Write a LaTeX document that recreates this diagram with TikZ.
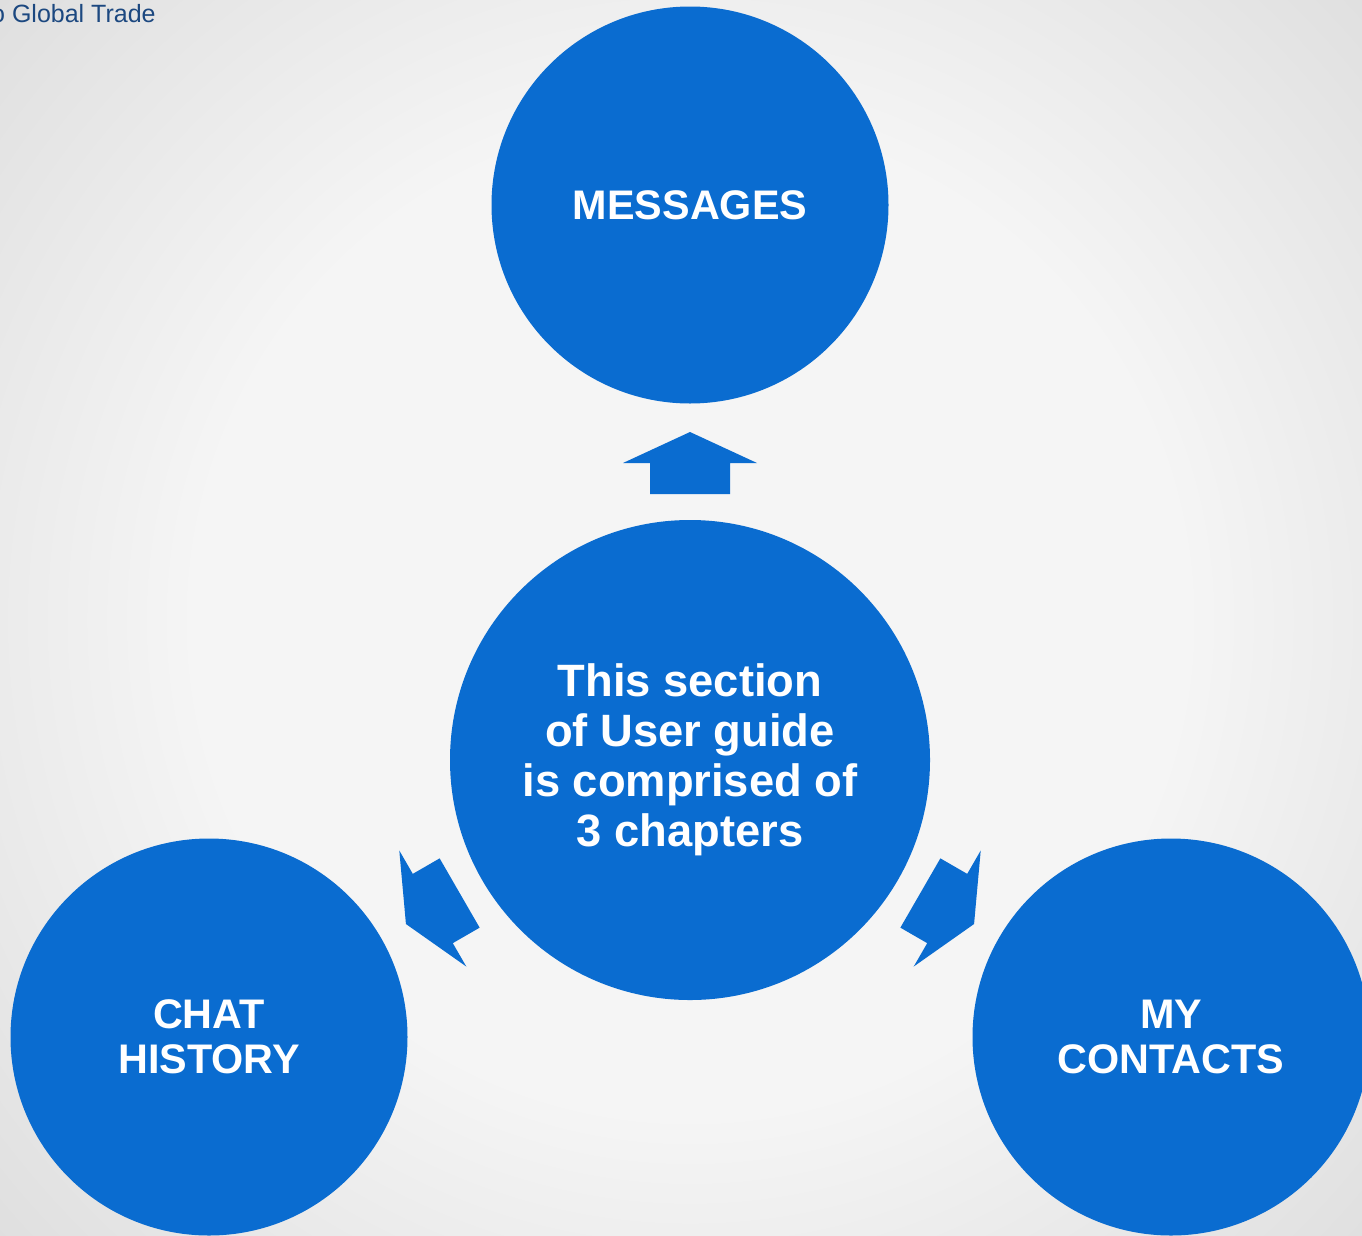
\documentclass[tikz,border=0pt]{standalone}
\usepackage{fontspec}
\setmainfont{Liberation Sans}
\definecolor{chapterblue}{RGB}{10,108,208}
\definecolor{bgcenter}{RGB}{245,245,245}
\definecolor{bgedge}{RGB}{222,222,222}
\definecolor{brandblue}{RGB}{28,72,128}
\pgfdeclareradialshading{backdrop}{\pgfpoint{0bp}{0bp}}{color(0bp)=(bgcenter); color(13bp)=(bgcenter); color(25bp)=(bgedge); color(50bp)=(bgedge)}
\tikzset{
    chapter/.style={circle, fill=chapterblue, inner sep=0pt, minimum size=297.75pt,
        text=white, align=center, font=\bfseries\fontsize{31}{34}\selectfont},
    hub/.style={chapter, minimum size=360pt, font=\bfseries\fontsize{34}{37.5}\selectfont},
    brand/.style={inner sep=0pt, text=brandblue, font=\fontsize{18.75}{20}\selectfont}
}
\begin{document}
\begin{tikzpicture}[x=0.75pt, y=-0.75pt]
    \useasboundingbox (0,0) rectangle (1362,1235);
    \begin{scope}
        \clip (0,0) rectangle (1362,1235);
        \shade[shading=backdrop] (-260,-330) rectangle (1640,1570);
    \end{scope}
    \node[brand, anchor=base west] (brand) at (-16,22) {to Global Trade};
    \node[hub] (hub) at (690,760) {This section\\of User guide\\is comprised of\\3 chapters};
    \node[chapter] (messages) at (690,205) {MESSAGES};
    \node[chapter] (history) at (209,1037) {CHAT\\HISTORY};
    \node[chapter] (contacts) at (1171,1037) {MY\\CONTACTS};
    \foreach \a in {0,120,240}
        \fill[chapterblue, shift={(hub.center)}, rotate=\a]
            (0,-328) -- (67,-297) -- (40,-297) -- (40,-266) -- (-40,-266) -- (-40,-297) -- (-67,-297) -- cycle;
\end{tikzpicture}
\end{document}
